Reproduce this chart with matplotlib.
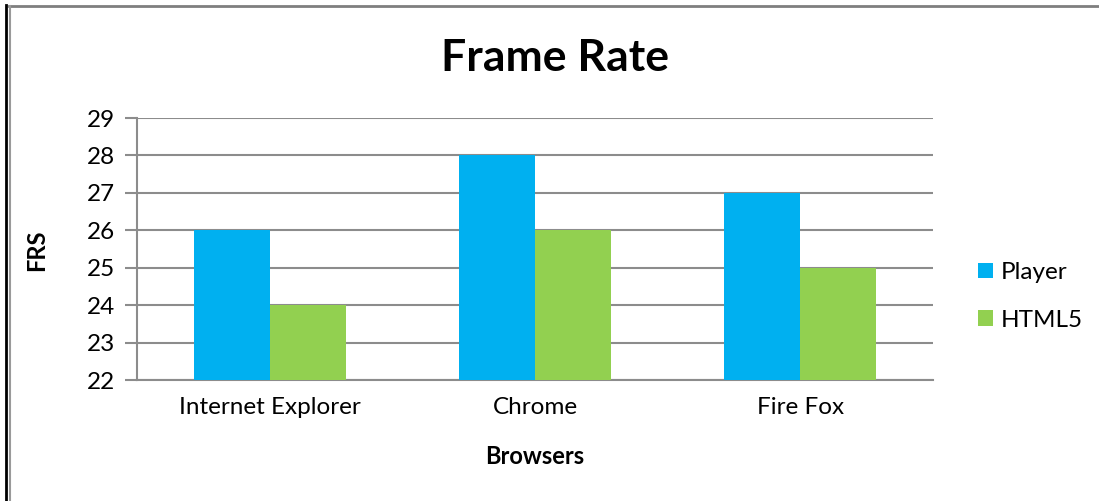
#!/usr/bin/env python3
"""Frame rate per browser: Player vs HTML5 (Excel-style clustered bars)."""

import matplotlib
matplotlib.use("Agg")
import matplotlib.pyplot as plt
from matplotlib.lines import Line2D
import numpy as np

browsers = ["Internet Explorer", "Chrome", "Fire Fox"]
player = [26, 28, 27]
html5 = [24, 26, 25]
series_names = ["Player", "HTML5"]
y_ticks = [22, 23, 24, 25, 26, 27, 28, 29]

BLUE = "#00B0F0"
GREEN = "#92D050"
GRID = "#8C8C8C"

plt.rcParams["font.family"] = ["Lato", "DejaVu Sans"]

W, H = 1099, 501
fig = plt.figure(figsize=(W / 100, H / 100), dpi=100)
ax = fig.add_axes([137 / W, 1 - 380 / H, (933 - 137) / W, (380 - 118) / H])

x = np.arange(len(browsers))
bw = 0.287
ax.bar(x - bw / 2, player, bw, color=BLUE, label=series_names[0], zorder=3)
ax.bar(x + bw / 2, html5, bw, color=GREEN, label=series_names[1], zorder=3)

ax.set_xlim(-0.5, len(browsers) - 0.5)
ax.set_ylim(y_ticks[0], y_ticks[-1])
ax.set_yticks(y_ticks)
ax.set_xticks(x)
ax.set_xticklabels(browsers, fontsize=17.5)
ax.tick_params(axis="x", length=0, pad=12)
ax.tick_params(axis="y", length=9, width=1.5, color=GRID, labelsize=17.5, pad=7)
ax.yaxis.grid(True, color=GRID, linewidth=1.5, zorder=0)

for side in ["top", "right"]:
    ax.spines[side].set_visible(False)
for side in ["left", "bottom"]:
    ax.spines[side].set_color(GRID)
    ax.spines[side].set_linewidth(1.5)

fig.text(555 / W, 1 - 58 / H, "Frame Rate", ha="center", va="center",
         fontsize=32, fontweight="bold")
fig.text(37 / W, 1 - 250 / H, "FRS", ha="center", va="center",
         rotation=90, fontsize=17, fontweight="bold")
fig.text(535 / W, 1 - 456 / H, "Browsers", ha="center", va="center",
         fontsize=17, fontweight="bold")

fig.legend(loc="upper left", bbox_to_anchor=(966 / W, 1 - 250 / H),
           frameon=False, fontsize=17.5, handlelength=0.62, handleheight=0.62,
           handletextpad=0.3, labelspacing=1.1, borderpad=0)

# chart border (top + left, with the double line on the left)
fig.add_artist(Line2D([9 / W, 1], [1 - 5.5 / H, 1 - 5.5 / H],
                      transform=fig.transFigure, color="#7F7F7F", linewidth=2))
fig.add_artist(Line2D([10 / W, 10 / W], [0, 1 - 5.5 / H],
                      transform=fig.transFigure, color="#9A9A9A", linewidth=1.5))
fig.add_artist(Line2D([6 / W, 6 / W], [0, 1 - 5 / H],
                      transform=fig.transFigure, color="black", linewidth=2))

fig.savefig("out.png", dpi=100)
